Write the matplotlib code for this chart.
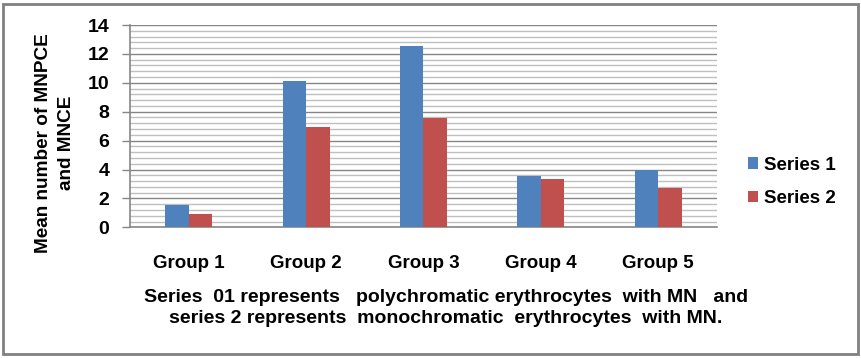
import matplotlib
matplotlib.use("Agg")
import matplotlib.pyplot as plt
from matplotlib.patches import Rectangle
from matplotlib.ticker import MultipleLocator
import numpy as np

groups = ["Group 1", "Group 2", "Group 3", "Group 4", "Group 5"]
series1 = [1.55, 10.15, 12.55, 3.55, 4.0]
series2 = [0.9, 6.95, 7.55, 3.35, 2.72]
series_names = ["Series 1", "Series 2"]
ylabel = "Mean number of MNPCE\nand MNCE"
caption = ("Series  01 represents   polychromatic erythrocytes  with MN   and\n"
           "series 2 represents  monochromatic  erythrocytes  with MN.")

c1 = "#4F81BD"
c2 = "#C0504D"
arial = ["Liberation Sans", "DejaVu Sans"]

fig = plt.figure(figsize=(8.61, 3.58), dpi=100)
ax = fig.add_axes([130/861, 1-227.3/358, (717-130)/861, (227.3-25)/358])

x = np.arange(len(groups))
w = 0.2
ax.bar(x - w/2, series1, width=w, color=c1, label=series_names[0], zorder=3)
ax.bar(x + w/2, series2, width=w, color=c2, label=series_names[1], zorder=3)

ax.set_xlim(-0.5, len(groups) - 0.5)
ax.set_ylim(0, 14)
ax.yaxis.set_major_locator(MultipleLocator(2))
ax.yaxis.set_minor_locator(MultipleLocator(0.4))
ax.grid(axis="y", which="major", color="#868686", lw=1.0, zorder=1)
ax.grid(axis="y", which="minor", color="#BFBFBF", lw=1.0, zorder=0)
ax.tick_params(axis="y", which="minor", length=0)
ax.tick_params(axis="y", which="major", length=6, color="#868686", width=1, pad=9)
ax.tick_params(axis="x", length=0, pad=20)
for s in ["top", "right"]:
    ax.spines[s].set_visible(False)
for s in ["left", "bottom"]:
    ax.spines[s].set_color("#868686")
    ax.spines[s].set_linewidth(1.2)

ax.set_xticks(x)
ax.set_xticklabels(groups, fontfamily=arial, fontweight="bold", fontsize=13.5)
for lbl in ax.get_yticklabels():
    lbl.set_fontfamily(arial)
    lbl.set_fontweight("bold")
    lbl.set_fontsize(14)

fig.text(55/861, 1-143/358, ylabel, rotation=90, ha="center", va="center",
         fontfamily=arial, fontweight="bold", fontsize=13.7, linespacing=1.45)

fig.text(446/861, 1-308/358, caption, ha="center", va="center",
         fontfamily=arial, fontweight="bold", fontsize=14, linespacing=1.25)

leg = fig.legend(loc="center left", bbox_to_anchor=(731/861, 1-182/358),
                 frameon=False, prop={"family": arial, "weight": "bold", "size": 13.5},
                 handlelength=0.55, handleheight=0.55, handletextpad=0.3, labelspacing=0.9)

fig.patches.append(Rectangle((3/861, 4/358), 855/861, 350/358, transform=fig.transFigure,
                             fill=False, edgecolor="#808080", lw=2))

fig.savefig("out.png", dpi=100)
